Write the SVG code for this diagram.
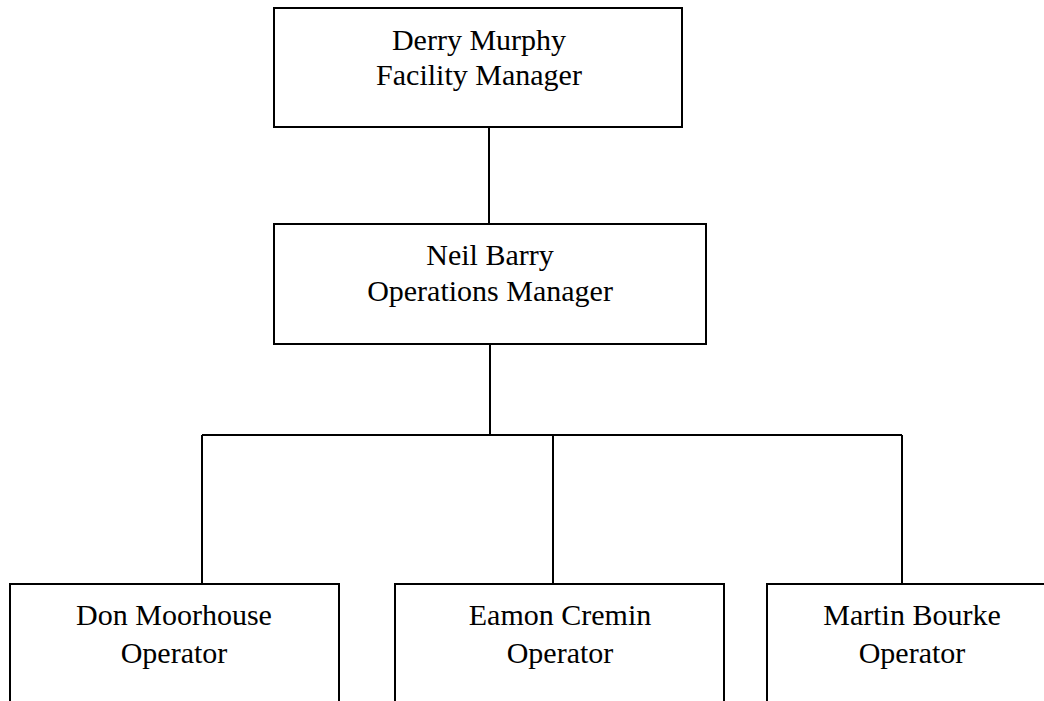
<svg xmlns="http://www.w3.org/2000/svg" width="1044" height="701" viewBox="0 0 1044 701">
<style>
.box{fill:#fff;stroke:#000;stroke-width:2}
.ln{stroke:#000;stroke-width:2;fill:none}
text{font-family:"Liberation Serif","Times New Roman",serif;font-size:30px;fill:#000;text-anchor:middle}
</style>
<rect width="1044" height="701" fill="#fff"/>
<g id="connectors">
<line class="ln" x1="489" y1="127" x2="489" y2="224"/>
<line class="ln" x1="490" y1="344" x2="490" y2="435"/>
<line class="ln" x1="202" y1="435" x2="902" y2="435"/>
<line class="ln" x1="202" y1="435" x2="202" y2="584"/>
<line class="ln" x1="553" y1="435" x2="553" y2="584"/>
<line class="ln" x1="902" y1="435" x2="902" y2="584"/>
</g>
<g id="derry">
<rect class="box" x="274" y="8" width="408" height="119"/>
<text x="479" y="50">Derry Murphy</text>
<text x="479" y="85">Facility Manager</text>
</g>
<g id="neil">
<rect class="box" x="274" y="224" width="432" height="120"/>
<text x="490" y="265">Neil Barry</text>
<text x="490" y="301">Operations Manager</text>
</g>
<g id="don">
<rect class="box" x="10" y="584" width="329" height="140"/>
<text x="174" y="625">Don Moorhouse</text>
<text x="174" y="663">Operator</text>
</g>
<g id="eamon">
<rect class="box" x="395" y="584" width="329" height="140"/>
<text x="560" y="625">Eamon Cremin</text>
<text x="560" y="663">Operator</text>
</g>
<g id="martin">
<rect class="box" x="767" y="584" width="329" height="140"/>
<text x="912" y="625">Martin Bourke</text>
<text x="912" y="663">Operator</text>
</g>
</svg>
